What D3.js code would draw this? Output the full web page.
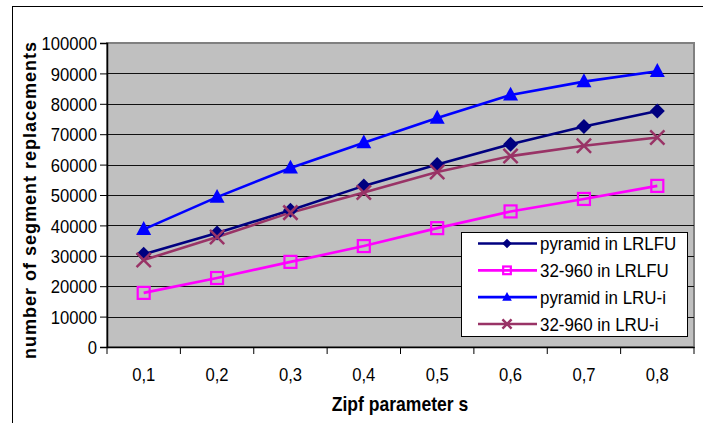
<!DOCTYPE html>
<html lang="en">
<head>
    <meta charset="UTF-8">
    <title>Segment replacements vs Zipf parameter</title>
    <style>
        body { margin: 0; background: #fff; }
        #grafico { display: block; }
        text { font-family: Arial, "Liberation Sans", sans-serif; fill: #000; }
        .tick text { font-size: 18.5px; }
        .titulo { font-size: 19.5px; font-weight: bold; }
        .tituloY { font-size: 18px; font-weight: bold; letter-spacing: 1px; }
        .rotulo { font-size: 18.8px; }
    </style>
    <script src="https://d3js.org/d3.v7.min.js"></script>
</head>
<body>
<svg id="grafico" width="703" height="423"></svg>
<script>
    // data
    const categorias = ['0,1', '0,2', '0,3', '0,4', '0,5', '0,6', '0,7', '0,8'];
    const pyramidLRLFU = [30500, 37500, 45000, 53000, 60000, 66700, 72500, 77600];
    const c32LRLFU = [17800, 22700, 28000, 33200, 39100, 44600, 48700, 53000];
    const pyramidLRUi = [38700, 49300, 58900, 67200, 75300, 82900, 87300, 90700];
    const c32LRUi = [28600, 36200, 44200, 50800, 57600, 62800, 66200, 68900];
    const yTicks = [0, 10000, 20000, 30000, 40000, 50000, 60000, 70000, 80000, 90000, 100000];

    const series = [
        { nome: 'pyramid in LRLFU', valores: pyramidLRLFU, cor: '#000080', marca: 'diamond' },
        { nome: '32-960 in LRLFU', valores: c32LRLFU, cor: '#FF00FF', marca: 'square' },
        { nome: 'pyramid in LRU-i', valores: pyramidLRUi, cor: '#0000FF', marca: 'triangle' },
        { nome: '32-960 in LRU-i', valores: c32LRUi, cor: '#993366', marca: 'cross' }
    ];

    const svg = d3.select('#grafico');
    const esq = 107, dir = 694, topo = 43, base = 347;
    const estreito = 0.9; // the original text is a bit narrow

    // outer chart frame (cut at right/bottom like the picture)
    svg.append('rect')
        .attr('x', 12.5).attr('y', 6.5)
        .attr('width', 720).attr('height', 440)
        .attr('fill', 'none').attr('stroke', '#000');

    const fnX = d3.scaleBand().domain(categorias).range([esq, dir]);
    const fnY = d3.scaleLinear().domain([0, 100000]).range([base, topo]);

    // plot area
    svg.append('rect')
        .attr('x', esq).attr('y', topo)
        .attr('width', dir - esq).attr('height', base - topo)
        .attr('fill', '#C0C0C0')
        .attr('stroke', '#808080').attr('stroke-width', 2);

    // gridlines
    svg.selectAll('.grade')
        .data(yTicks.filter(v => v > 0 && v < 100000))
        .enter()
        .append('line')
        .classed('grade', true)
        .attr('x1', esq).attr('x2', dir)
        .attr('y1', d => Math.round(fnY(d)) + 0.5)
        .attr('y2', d => Math.round(fnY(d)) + 0.5)
        .attr('stroke', '#111').attr('stroke-width', 1.2);

    // y axis
    const eixoY = svg.append('g')
        .attr('transform', `translate(${esq},0)`)
        .call(d3.axisLeft(fnY).tickValues(yTicks).tickFormat(d => d).tickSize(7).tickPadding(4));
    eixoY.select('.domain').attr('stroke', '#000').attr('stroke-width', 1.5);
    eixoY.selectAll('.tick line').attr('stroke', '#000');
    eixoY.selectAll('.tick text')
        .attr('dy', '0.36em')
        .attr('transform', `scale(${estreito},1)`);

    // x axis: labels at band centres, ticks at band edges
    const eixoX = svg.append('g')
        .attr('transform', `translate(0,${base})`)
        .call(d3.axisBottom(fnX).tickSize(0).tickPadding(21));
    eixoX.select('.domain').attr('stroke', '#000').attr('stroke-width', 1.5);
    eixoX.selectAll('.tick text').attr('transform', `scale(${estreito},1)`);

    const bordas = categorias.map(c => fnX(c)).concat([dir]);
    svg.selectAll('.marcaX')
        .data(bordas)
        .enter()
        .append('line')
        .classed('marcaX', true)
        .attr('x1', d => d).attr('x2', d => d)
        .attr('y1', base).attr('y2', base + 7)
        .attr('stroke', '#000');

    // titles
    svg.append('text')
        .classed('titulo', true)
        .attr('transform', `translate(400,411) scale(${estreito},1)`)
        .attr('text-anchor', 'middle')
        .text('Zipf parameter s');

    svg.append('text')
        .classed('tituloY', true)
        .attr('transform', 'translate(36,200) rotate(-90)')
        .attr('text-anchor', 'middle')
        .text('number of segment replacements');

    // markers
    function desenhaMarca(g, tipo, cor, tam) {
        if (tipo === 'diamond') {
            g.append('path')
                .attr('d', `M0,${-tam}L${tam},0L0,${tam}L${-tam},0Z`)
                .attr('fill', cor);
        } else if (tipo === 'square') {
            const s = tam * 0.8;
            g.append('rect')
                .attr('x', -s).attr('y', -s)
                .attr('width', 2 * s).attr('height', 2 * s)
                .attr('fill', 'none').attr('stroke', cor).attr('stroke-width', 2.2);
        } else if (tipo === 'triangle') {
            g.append('path')
                .attr('d', `M0,${-tam * 1.1}L${tam},${tam * 0.75}L${-tam},${tam * 0.75}Z`)
                .attr('fill', cor);
        } else {
            const s = tam * 0.95;
            g.append('path')
                .attr('d', `M${-s},${-s}L${s},${s}M${-s},${s}L${s},${-s}`)
                .attr('stroke', cor).attr('stroke-width', 2.5).attr('fill', 'none');
        }
    }

    const linha = d3.line()
        .x((d, i) => fnX(categorias[i]) + fnX.bandwidth() / 2)
        .y(d => fnY(d));

    series.forEach(s => {
        svg.append('path')
            .datum(s.valores)
            .attr('d', linha)
            .attr('fill', 'none')
            .attr('stroke', s.cor)
            .attr('stroke-width', 2.6);
    });

    series.forEach(s => {
        s.valores.forEach((v, i) => {
            const g = svg.append('g')
                .attr('transform', `translate(${fnX(categorias[i]) + fnX.bandwidth() / 2},${fnY(v)})`);
            desenhaMarca(g, s.marca, s.cor, 7.5);
        });
    });

    // legend
    const leg = svg.append('g');
    leg.append('rect')
        .attr('x', 461.5).attr('y', 232.5)
        .attr('width', 226).attr('height', 104)
        .attr('fill', '#fff').attr('stroke', '#000');

    const fnLeg = d3.scaleLinear().domain([0, 3]).range([243.5, 324]);
    series.forEach((s, i) => {
        const yy = fnLeg(i);
        leg.append('line')
            .attr('x1', 478).attr('x2', 537)
            .attr('y1', yy).attr('y2', yy)
            .attr('stroke', s.cor).attr('stroke-width', 2.6);
        const g = leg.append('g').attr('transform', `translate(507,${yy})`);
        desenhaMarca(g, s.marca, s.cor, 4.8);
        leg.append('text')
            .classed('rotulo', true)
            .attr('transform', `translate(540,${yy + 6.5}) scale(${estreito},1)`)
            .text(s.nome);
    });
</script>
</body>
</html>
